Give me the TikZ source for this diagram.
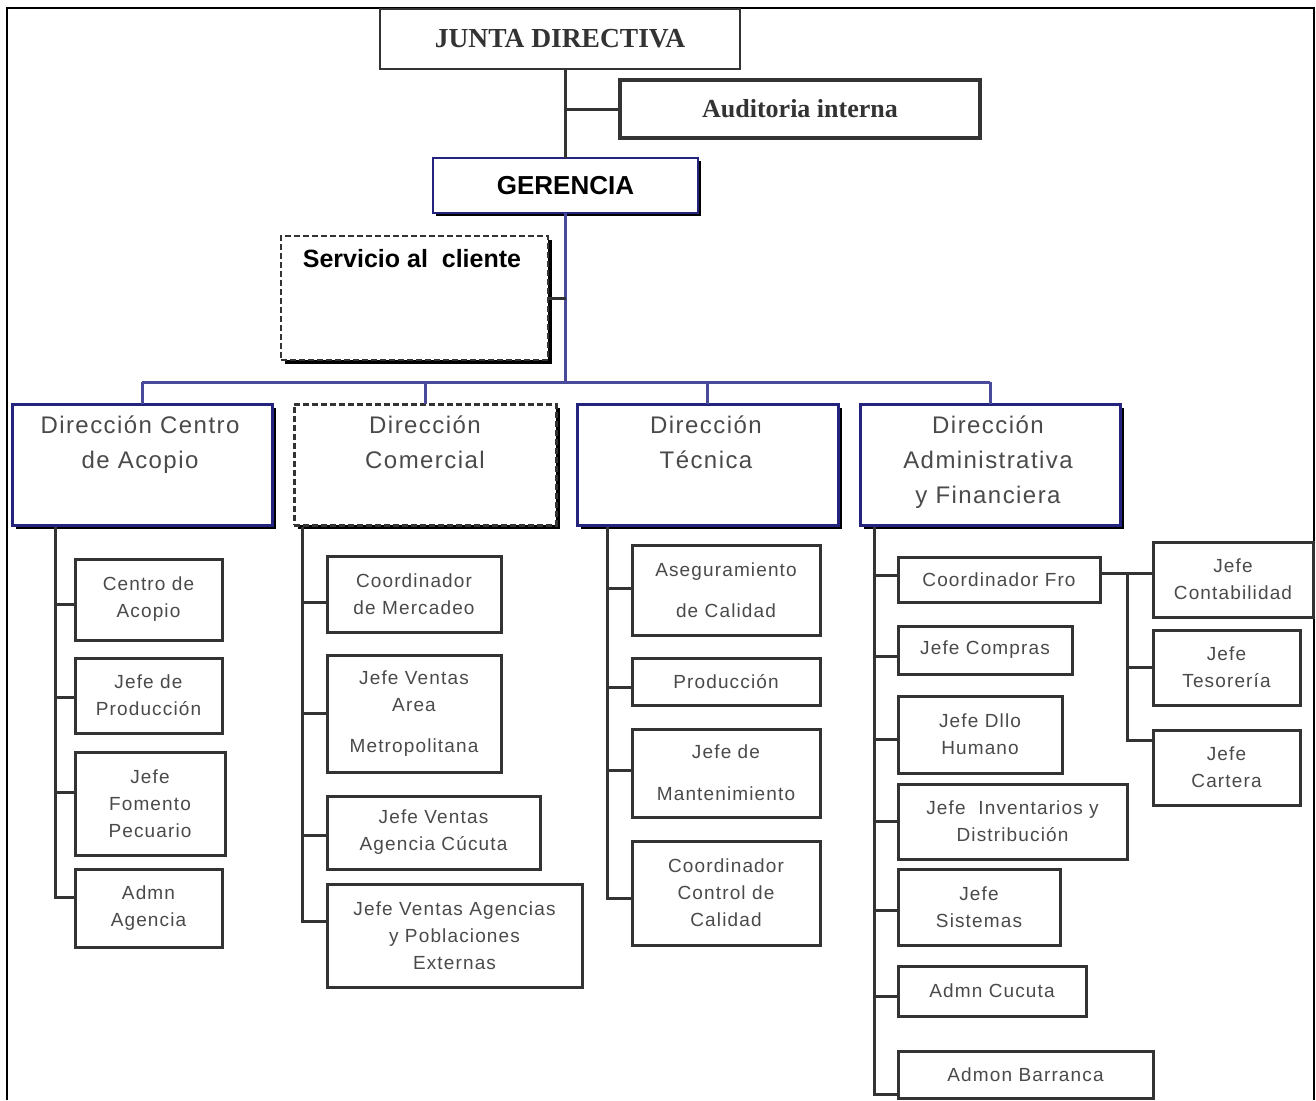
\documentclass[tikz,border=0pt]{standalone}
\usepackage{fontspec}
\setmainfont{Liberation Sans}
\newfontfamily\serifface{Liberation Serif}
\newfontfamily\trackedface[LetterSpace=6]{Liberation Sans}
\usetikzlibrary{shadows}

\definecolor{ink}{HTML}{333333}
\definecolor{navy}{HTML}{24247F}
\definecolor{txtgray}{HTML}{4A4A4A}
\definecolor{busblue}{HTML}{4A4A9A}

\tikzset{
  x=1pt, y=-1pt,
  every node/.style={inner sep=0pt, outer sep=0pt},
  boxbase/.style={anchor=north west, draw, fill=white, align=center},
  subbox/.style={boxbase, draw=ink, line width=3pt, text=txtgray,
    font=\trackedface\fontsize{19}{27}\selectfont},
  dirbox/.style={boxbase, draw=navy, line width=3pt,
    drop shadow={shadow xshift=4pt, shadow yshift=-4pt, opacity=1, fill=black}},
  dirtext/.style={anchor=north, text=txtgray, align=center,
    font=\trackedface\fontsize{24}{35}\selectfont},
  link/.style={draw=ink, line width=3pt},
  bus/.style={draw=busblue, line width=3pt},
}

\begin{document}
\begin{tikzpicture}
\useasboundingbox (0,0) rectangle (1316,1100);

% outer frame (open at the bottom)
\draw[black, line width=1.8pt] (7,1100) -- (7,8) -- (1314,8) -- (1314,1100);

% top level
\node[boxbase, draw=ink, line width=2.4pt, minimum width=360pt, minimum height=60pt,
      text=ink, font=\serifface\bfseries\fontsize{27.5}{30}\selectfont] (junta) at (380,9) {JUNTA DIRECTIVA};
\node[boxbase, draw=ink, line width=3.2pt, minimum width=360pt, minimum height=58pt,
      text=ink, font=\serifface\bfseries\fontsize{26}{30}\selectfont] (auditoria) at (620,80) {Auditoria interna};
\node[boxbase, draw=navy, line width=2.2pt, minimum width=265pt, minimum height=55pt,
      drop shadow={shadow xshift=3pt, shadow yshift=-3pt, opacity=1, fill=black},
      font=\bfseries\fontsize{26}{28}\selectfont] (gerencia) at (433,158) {GERENCIA};

\node[boxbase, draw=ink, line width=2.8pt, dash pattern=on 6pt off 3pt,
      minimum width=267pt, minimum height=124pt,
      drop shadow={shadow xshift=4pt, shadow yshift=-4pt, opacity=1, fill=black}] (servicio) at (281,236) {};
\node[anchor=north, font=\bfseries\fontsize{25}{28}\selectfont, text=black] (serviciotxt) at (412,249) {Servicio al\ \ cliente};

% spine from the board down to the bus
\coordinate (busy) at (566,382);
\draw[link] (junta.south -| gerencia.north) -- (gerencia.north);
\draw[link] (auditoria.west -| gerencia.north) -- (auditoria.west);
\draw[bus] (gerencia.south) -- (gerencia.south |- busy);
\draw[link] (servicio.east) -- (servicio.east -| gerencia.south);

% directions
\node[dirbox, minimum width=260pt, minimum height=121pt] (dir1) at (12,404) {};
\node[dirbox, draw=ink, dash pattern=on 6pt off 3pt, minimum width=262pt, minimum height=121pt] (dir2) at (294,404) {};
\node[dirbox, minimum width=261pt, minimum height=121pt] (dir3) at (577,404) {};
\node[dirbox, minimum width=260pt, minimum height=121pt] (dir4) at (860,404) {};

\node[dirtext] (dir1txt) at (140,416) {Dirección Centro\\de Acopio};
\node[dirtext] (dir2txt) at (425,416) {Dirección\\Comercial};
\node[dirtext] (dir3txt) at (706,416) {Dirección\\Técnica};
\node[dirtext] (dir4txt) at (988,416) {Dirección\\Administrativa\\y Financiera};

\draw[bus] (dir1.north |- busy) -- (dir4.north |- busy);
\foreach \d in {dir1,dir2,dir3,dir4} \draw[bus] (\d.north |- busy) -- (\d.north);

% column 1
\node[subbox, minimum width=147pt, minimum height=81pt] (c1a) at (75,559) {Centro de\\Acopio};
\node[subbox, minimum width=147pt, minimum height=75pt] (c1b) at (75,658) {Jefe de\\Producción};
\node[subbox, minimum width=150pt, minimum height=103pt] (c1c) at (75,752) {Jefe\\Fomento\\Pecuario};
\node[subbox, minimum width=147pt, minimum height=78pt] (c1d) at (75,869) {Admn\\Agencia};

\coordinate (t1) at (55,527);
\coordinate (k1a) at ([yshift=-5pt]c1a.west);
\coordinate (k1b) at ([yshift=-2pt]c1b.west);
\coordinate (k1c) at ([yshift=11pt]c1c.west);
\coordinate (k1d) at ([yshift=11pt]c1d.west);
\draw[link] (t1) -- ([yshift=-1.5pt]t1 |- k1d);
\foreach \k in {k1a,k1b,k1c,k1d} \draw[link] (t1 |- \k) -- (\k);

% column 2
\node[subbox, minimum width=174pt, minimum height=76pt] (c2a) at (327,556) {Coordinador\\de Mercadeo};
\node[subbox, minimum width=174pt, minimum height=117pt] (c2b) at (327,655) {Jefe Ventas\\Area\\[14pt]Metropolitana};
\node[subbox, minimum width=213pt, minimum height=73pt] (c2c) at (327,796) {Jefe Ventas\\Agencia Cúcuta};
\node[subbox, minimum width=255pt, minimum height=103pt] (c2d) at (327,884) {Jefe Ventas Agencias\\y Poblaciones\\Externas};

\coordinate (t2) at (302,527);
\coordinate (k2a) at ([yshift=-8pt]c2a.west);
\coordinate (k2b) at (c2b.west);
\coordinate (k2c) at ([yshift=-3pt]c2c.west);
\coordinate (k2d) at ([yshift=14pt]c2d.west);
\draw[link] (t2) -- ([yshift=-1.5pt]t2 |- k2d);
\foreach \k in {k2a,k2b,k2c,k2d} \draw[link] (t2 |- \k) -- (\k);

% column 3
\node[subbox, minimum width=188pt, minimum height=90pt] (c3a) at (632,545) {Aseguramiento\\[14pt]de Calidad};
\node[subbox, minimum width=188pt, minimum height=47pt] (c3b) at (632,658) {Producción};
\node[subbox, minimum width=188pt, minimum height=88pt] (c3c) at (632,729) {Jefe de\\[15pt]Mantenimiento};
\node[subbox, minimum width=188pt, minimum height=104pt] (c3d) at (632,841) {Coordinador\\Control de\\Calidad};

\coordinate (t3) at (607,527);
\coordinate (k3a) at ([yshift=2pt]c3a.west);
\coordinate (k3b) at ([yshift=-6pt]c3b.west);
\coordinate (k3c) at ([yshift=3pt]c3c.west);
\coordinate (k3d) at ([yshift=-5pt]c3d.west);
\draw[link] (t3) -- ([yshift=-1.5pt]t3 |- k3d);
\foreach \k in {k3a,k3b,k3c,k3d} \draw[link] (t3 |- \k) -- (\k);

% column 4
\node[subbox, minimum width=202pt, minimum height=45pt] (c4a) at (898,557) {Coordinador Fro};
\node[subbox, minimum width=174pt, minimum height=48pt] (c4b) at (898,626) {Jefe Compras};
\node[subbox, minimum width=164pt, minimum height=77pt] (c4c) at (898,696) {Jefe Dllo\\Humano};
\node[subbox, minimum width=229pt, minimum height=75pt] (c4d) at (898,784) {Jefe\ \ Inventarios y\\Distribución};
\node[subbox, minimum width=162pt, minimum height=76pt] (c4e) at (898,869) {Jefe\\Sistemas};
\node[subbox, minimum width=188pt, minimum height=50pt] (c4f) at (898,966) {Admn Cucuta};
\node[subbox, minimum width=255pt, minimum height=47pt] (c4g) at (898,1051) {Admon Barranca};

\coordinate (t4) at (874,527);
\coordinate (k4a) at ([yshift=4pt]c4a.west);
\coordinate (k4b) at ([yshift=-6pt]c4b.west);
\coordinate (k4c) at ([yshift=-5pt]c4c.west);
\coordinate (k4d) at (c4d.west);
\coordinate (k4e) at ([yshift=-3pt]c4e.west);
\coordinate (k4f) at ([yshift=-5pt]c4f.west);
\coordinate (k4g) at ([yshift=-20pt]c4g.west);
\draw[link] (t4) -- ([yshift=-1.5pt]t4 |- k4g);
\foreach \k in {k4a,k4b,k4c,k4d,k4e,k4f,k4g} \draw[link] (t4 |- \k) -- (\k);

% finance sub-branch
\node[subbox, minimum width=160pt, minimum height=75pt] (c5a) at (1153,542) {Jefe\\Contabilidad};
\node[subbox, minimum width=147pt, minimum height=75pt] (c5b) at (1153,630) {Jefe\\Tesorería};
\node[subbox, minimum width=147pt, minimum height=75pt] (c5c) at (1153,730) {Jefe\\Cartera};

\coordinate (f0) at ([yshift=6pt]c4a.east);
\coordinate (t5) at (1127,573);
\coordinate (k5a) at (c5a.west |- f0);
\coordinate (k5b) at (c5b.west);
\coordinate (k5c) at ([yshift=27pt]c5c.west);
\draw[link] (f0) -- (k5a);
\draw[link] (t5) -- ([yshift=-1.5pt]t5 |- k5c);
\foreach \k in {k5b,k5c} \draw[link] (t5 |- \k) -- (\k);
\end{tikzpicture}
\end{document}
